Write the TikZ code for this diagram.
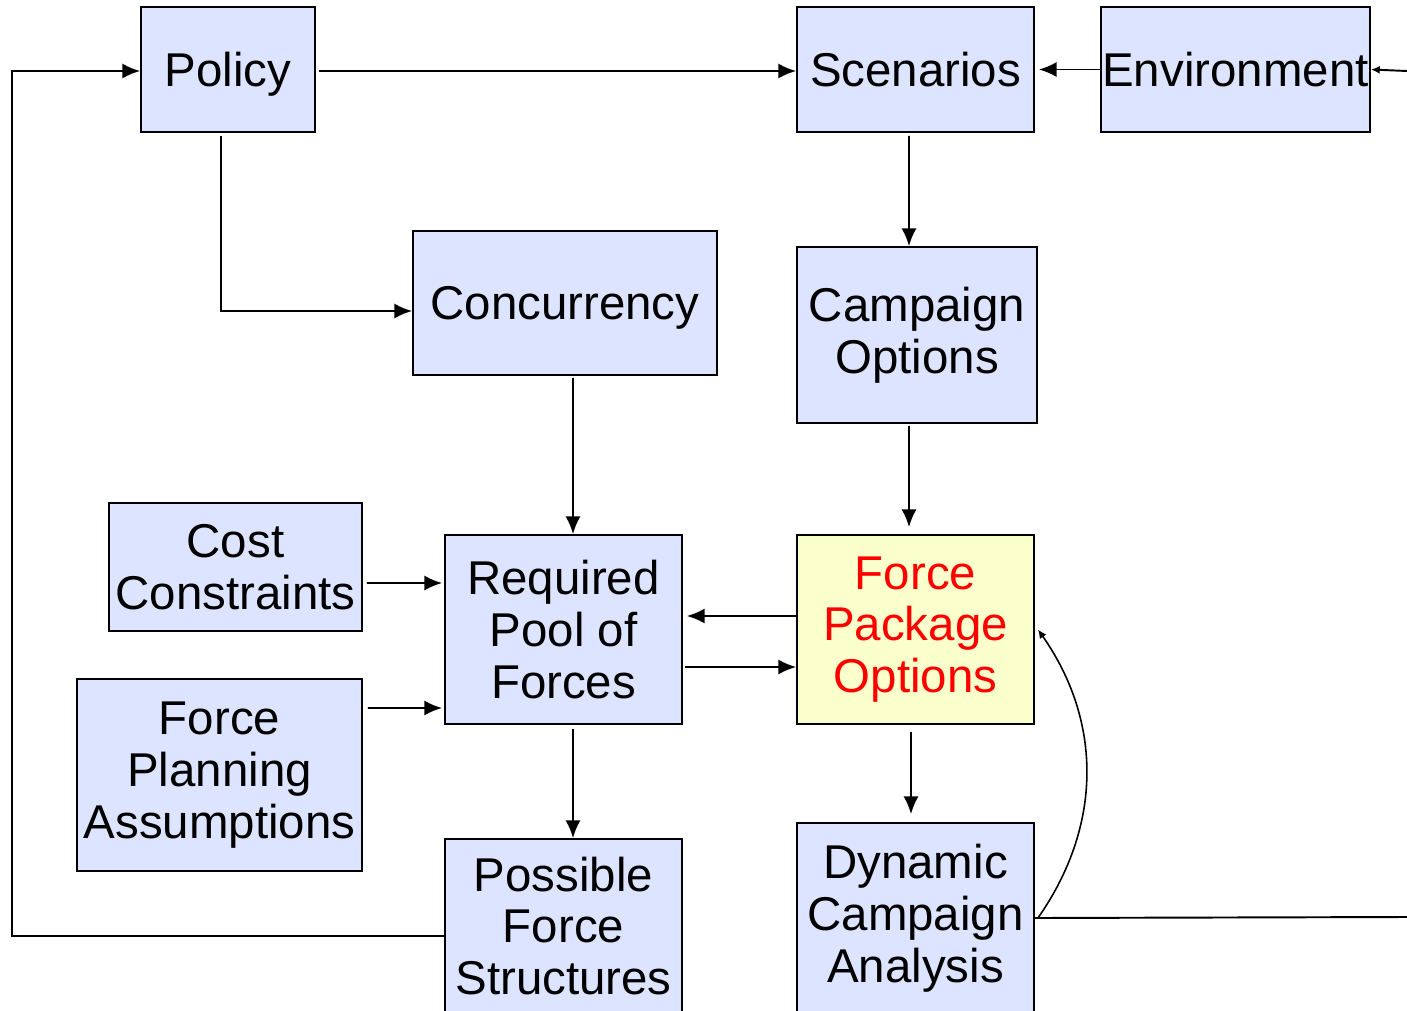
\documentclass[tikz,border=0pt]{standalone}
\usepackage{fontspec}
\setmainfont{Liberation Sans}
\usetikzlibrary{arrows.meta}
\definecolor{boxblue}{RGB}{221,228,255}
\definecolor{boxyellow}{RGB}{250,255,204}
\begin{document}
\begin{tikzpicture}[x=0.02cm,y=-0.02cm,line width=1.1pt,
  ->,>={Latex[length=10pt,width=8.5pt]},
  box/.style={draw,fill=boxblue,inner sep=0pt,align=center,
    font=\fontsize{27}{29.5}\selectfont},
  hot/.style={box,fill=boxyellow,text=red},
  small/.style={-{Latex[length=5pt,width=4.5pt]}}]
\useasboundingbox (0,0) rectangle (1407,1011);
\clip (0,0) rectangle (1407,1011);
\node[box,text depth=0pt,minimum width=3.48cm,minimum height=2.5cm](policy) at (228,69.5) {Policy};
\node[box,minimum width=4.74cm,minimum height=2.5cm](scen) at (915.5,69.5) {Scenarios};
\node[box,minimum width=5.38cm,minimum height=2.5cm](env) at (1235.5,69.5) {Environment};
\node[box,text depth=0pt,minimum width=6.08cm,minimum height=2.88cm](conc) at (565,303) {Concurrency};
\node[box,minimum width=4.8cm,minimum height=3.52cm](camp) at (917,335) {Campaign\\Options};
\node[box,minimum width=5.06cm,minimum height=2.56cm](cost) at (235.5,567) {Cost\\Constraints};
\node[box,minimum width=4.74cm,minimum height=3.78cm](pool) at (563.5,629.5) {Required\\Pool of\\Forces};
\node[hot,minimum width=4.74cm,minimum height=3.78cm](pkg) at (915.5,629.5) {Force\\Package\\Options};
\node[box,minimum width=5.7cm,minimum height=3.84cm](assume) at (219.5,775) {Force\\Planning\\Assumptions};
\node[box,minimum width=4.74cm,minimum height=3.48cm](struct) at (563.5,926) {Possible\\Force\\Structures};
\node[box,minimum width=4.74cm,minimum height=3.8cm](dyn) at (915.5,918) {Dynamic\\Campaign\\Analysis};
\coordinate(envin) at (1407,71);
\coordinate(dynout) at (1407,917);
\coordinate(rail) at (12,500);
\draw([xshift=0.06cm,yshift=-0.03cm]policy.east) -- ([yshift=-0.03cm]scen.west);
\draw(env.west) -- ([xshift=0.08cm]scen.east);
\draw[small](envin) -- (env.east);
\draw([xshift=-0.14cm,yshift=-0.06cm]policy.south) |- ([yshift=-0.16cm]conc.west);
\draw([xshift=-0.13cm,yshift=-0.06cm]scen.south) -- ([xshift=-0.16cm]camp.north);
\draw([xshift=-0.16cm,yshift=-0.04cm]camp.south) -- ([xshift=-0.13cm,yshift=0.14cm]pkg.north);
\draw([xshift=0.16cm,yshift=-0.04cm]conc.south) -- ([xshift=0.19cm]pool.north);
\draw([xshift=0.08cm,yshift=-0.32cm]cost.east) -- ([xshift=-0.04cm,yshift=0.93cm]pool.west);
\draw([xshift=0.1cm,yshift=1.34cm]assume.east) -- ([xshift=-0.04cm,yshift=-1.57cm]pool.west);
\draw([yshift=0.27cm]pkg.west) -- ([xshift=0.08cm,yshift=0.27cm]pool.east);
\draw([xshift=0.04cm,yshift=-0.75cm]pool.east) -- ([yshift=-0.75cm]pkg.west);
\draw([xshift=0.19cm,yshift=-0.08cm]pool.south) -- ([xshift=0.19cm]struct.north);
\draw([xshift=-0.09cm,yshift=-0.14cm]pkg.south) -- ([xshift=-0.09cm,yshift=0.16cm]dyn.north);
\draw([yshift=-0.2cm]struct.west) -| (rail) |- ([yshift=-0.03cm]policy.west);
\draw[-](dyn.east) -- (dynout);
\draw[small,line width=0.9pt]([xshift=0.06cm]dyn.east) to [bend right=35] ([xshift=0.06cm]pkg.east);
\end{tikzpicture}
\end{document}
